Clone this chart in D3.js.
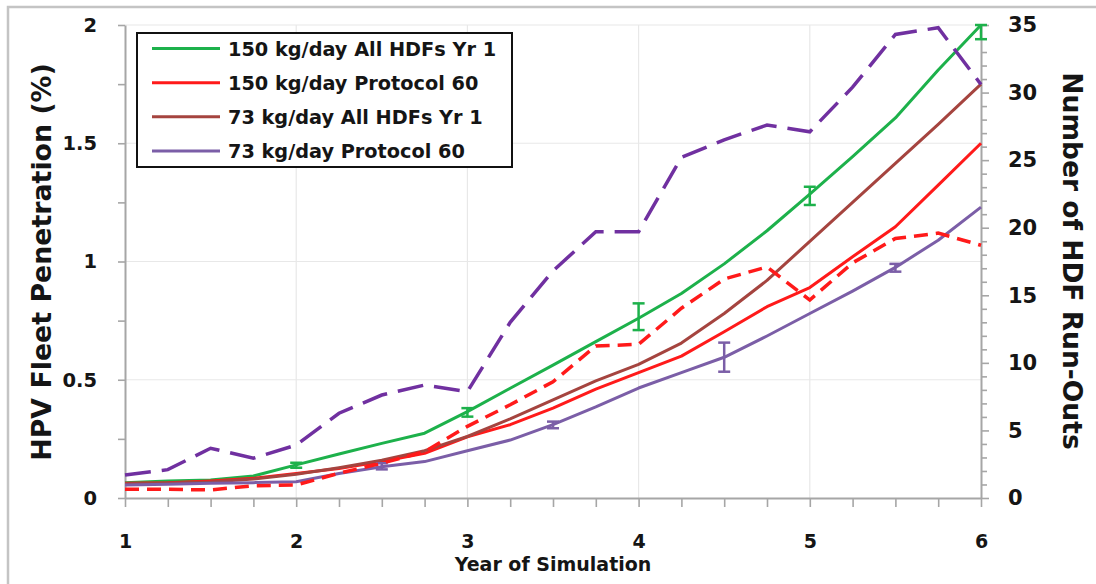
<!DOCTYPE html>
<html><head><meta charset="utf-8">
<script src="https://cdn.jsdelivr.net/npm/d3@7"></script>
<style>
body{margin:0;background:#fff;}
svg{display:block;font-family:"DejaVu Sans",sans-serif;font-weight:bold;}
</style></head><body>
<svg id="c" width="1096" height="584"></svg>
<script>
// ---- data ----
const years = [1, 1.25, 1.5, 1.75, 2, 2.25, 2.5, 2.75, 3, 3.25, 3.5, 3.75, 4, 4.25, 4.5, 4.75, 5, 5.25, 5.5, 5.75, 6];
// HPV fleet penetration (%) — left axis
const green150All = [0.065, 0.072, 0.076, 0.093, 0.14, 0.186, 0.231, 0.274, 0.365, 0.464, 0.562, 0.661, 0.76, 0.865, 0.99, 1.13, 1.285, 1.443, 1.607, 1.81, 2.0];
const red150P60 = [0.062, 0.065, 0.072, 0.083, 0.104, 0.125, 0.154, 0.189, 0.259, 0.31, 0.38, 0.46, 0.53, 0.60, 0.703, 0.809, 0.89, 1.02, 1.147, 1.323, 1.50];
const brown73All = [0.06, 0.063, 0.068, 0.08, 0.10, 0.128, 0.16, 0.20, 0.26, 0.335, 0.415, 0.495, 0.565, 0.655, 0.78, 0.92, 1.085, 1.25, 1.415, 1.58, 1.75];
const purple73P60 = [0.055, 0.058, 0.062, 0.065, 0.069, 0.104, 0.132, 0.154, 0.2, 0.245, 0.31, 0.385, 0.465, 0.53, 0.595, 0.685, 0.78, 0.875, 0.975, 1.09, 1.23];
// Number of HDF run-outs — right axis
const redRunOuts = [0.64, 0.64, 0.6, 0.91, 0.96, 1.83, 2.57, 3.43, 5.3, 6.9, 8.6, 11.25, 11.37, 14.04, 16.2, 17.1, 14.65, 17.4, 19.2, 19.6, 18.7];
const purpleRunOuts = [1.7, 2.1, 3.68, 2.94, 3.92, 6.27, 7.62, 8.36, 7.87, 13.0, 16.8, 19.7, 19.7, 25.2, 26.5, 27.6, 27.1, 30.4, 34.3, 34.8, 30.6];
// error bars
const greenErrX = [2, 3, 4, 5, 6];
const greenErrLo = [0.128, 0.344, 0.71, 1.239, 1.94];
const greenErrHi = [0.149, 0.38, 0.823, 1.316, 2.0];
const purpleErrX = [2.5, 3.5, 4.5, 5.5];
const purpleErrLo = [0.121, 0.295, 0.534, 0.957];
const purpleErrHi = [0.147, 0.323, 0.657, 0.99];
// ticks / labels
const xTicks = [1, 2, 3, 4, 5, 6];
const leftTicks = [0, 0.5, 1, 1.5, 2];
const rightTicks = [0, 5, 10, 15, 20, 25, 30, 35];
const legendLabels = ["150 kg/day All HDFs Yr 1", "150 kg/day Protocol 60", "73 kg/day All HDFs Yr 1", "73 kg/day Protocol 60"];
const xTitle = "Year of Simulation";
const leftTitle = "HPV Fleet Penetration (%)";
const rightTitle = "Number of HDF Run-Outs";

// ---- drawing ----
const svg = d3.select('#c');
const m = {l:125, r:981, t:25, b:498};
const x = d3.scaleLinear().domain([1,6]).range([m.l, m.r]);
const yL = d3.scaleLinear().domain([0,2]).range([m.b, m.t]);
const yR = d3.scaleLinear().domain([0,35]).range([m.b, m.t]);
const axisCol = '#a6a6a6', gridCol = '#e8e8e8', txtCol = '#151515';
const C = {green:'#1db14b', red:'#ff1a1a', brown:'#a5443f', purple:'#7b5ea7', purpleDark:'#7030a0'};

svg.append('rect').attr('x',8).attr('y',7).attr('width',1100).attr('height',600)
  .attr('fill','#fff').attr('stroke','#c4c4c4').attr('stroke-width',2.5);

// gridlines
svg.append('g').selectAll('line').data(leftTicks.filter(d=>d>0)).join('line')
  .attr('x1',m.l).attr('x2',m.r).attr('y1',d=>yL(d)).attr('y2',d=>yL(d))
  .attr('stroke',gridCol).attr('stroke-width',1.2);
svg.append('g').selectAll('line').data(xTicks.filter(d=>d>1 && d<6)).join('line')
  .attr('x1',d=>x(d)).attr('x2',d=>x(d)).attr('y1',m.t).attr('y2',m.b)
  .attr('stroke',gridCol).attr('stroke-width',1.2);

// axes
function styleAxis(g){
  g.select('.domain').attr('stroke',axisCol).attr('stroke-width',2);
  g.selectAll('.tick line').attr('stroke',axisCol).attr('stroke-width',1.6);
  g.selectAll('.tick text').attr('fill',txtCol).style('font-family','"DejaVu Sans",sans-serif').style('font-weight','bold');
}
const leftMinor = d3.range(0, 2.001, 0.25);
const gL = svg.append('g').attr('transform',`translate(${m.l},0)`)
  .call(d3.axisLeft(yL).tickValues(leftMinor).tickSize(7).tickSizeOuter(0).tickPadding(21)
    .tickFormat(d => leftTicks.some(t=>Math.abs(t-d)<1e-9) ? d3.format('~g')(d) : ''));
styleAxis(gL); gL.selectAll('.tick text').style('font-size','19.5px');

const rightMinor = d3.range(0, 35.001, 1);
const gR = svg.append('g').attr('transform',`translate(${m.r},0)`)
  .call(d3.axisRight(yR).tickValues(rightMinor).tickSize(8).tickSizeOuter(0).tickPadding(19)
    .tickFormat(d => rightTicks.includes(d) ? String(d) : ''));
styleAxis(gR); gR.selectAll('.tick text').style('font-size','21px');
gR.selectAll('.tick line').attr('x2', d => rightTicks.includes(d) ? 8 : 6);

const xMinor = d3.range(1, 6.001, 0.25);
const gX = svg.append('g').attr('transform',`translate(0,${m.b})`)
  .call(d3.axisBottom(x).tickValues(xMinor).tickSize(9).tickSizeOuter(0)
    .tickFormat(d => xTicks.some(t=>Math.abs(t-d)<1e-9) ? String(d) : ''));
styleAxis(gX);
gX.selectAll('.tick text').attr('y', 50).attr('dy', null).style('font-size','19px');

// series
const lineL = d3.line().x((d,i)=>x(years[i])).y(d=>yL(d));
const lineR = d3.line().x((d,i)=>x(years[i])).y(d=>yR(d));
const solids = [
  {v:green150All, c:C.green},
  {v:red150P60, c:C.red},
  {v:brown73All, c:C.brown},
  {v:purple73P60, c:C.purple}
];
const plot = svg.append('g');
solids.forEach(s => plot.append('path').attr('d', lineL(s.v)).attr('fill','none')
  .attr('stroke', s.c).attr('stroke-width', 3).attr('stroke-linejoin','round'));

// error bars
function errBars(xs, lo, hi, col){
  const g = plot.append('g').attr('stroke', col).attr('stroke-width', 2.5).attr('fill','none');
  xs.forEach((xv,i) => {
    const cx = x(xv);
    g.append('line').attr('x1',cx).attr('x2',cx).attr('y1',yL(lo[i])).attr('y2',yL(hi[i]));
    g.append('line').attr('x1',cx-6).attr('x2',cx+6).attr('y1',yL(lo[i])).attr('y2',yL(lo[i]));
    g.append('line').attr('x1',cx-6).attr('x2',cx+6).attr('y1',yL(hi[i])).attr('y2',yL(hi[i]));
  });
}
errBars(greenErrX, greenErrLo, greenErrHi, C.green);
errBars(purpleErrX, purpleErrLo, purpleErrHi, C.purple);

plot.append('path').attr('d', lineR(redRunOuts)).attr('fill','none')
  .attr('stroke', C.red).attr('stroke-width', 3.5).attr('stroke-dasharray','14 8');
plot.append('path').attr('d', lineR(purpleRunOuts)).attr('fill','none')
  .attr('stroke', C.purpleDark).attr('stroke-width', 3.5).attr('stroke-dasharray','26 11');

// legend
const lg = svg.append('g');
lg.append('rect').attr('x',137).attr('y',33).attr('width',375).attr('height',134)
  .attr('fill','#fff').attr('stroke','#111').attr('stroke-width',2);
const legCols = [C.green, C.red, C.brown, C.purple];
const rowY = d3.scaleLinear().domain([0,3]).range([48.5, 151]);
legendLabels.forEach((t,i) => {
  lg.append('line').attr('x1',152).attr('x2',220).attr('y1',rowY(i)).attr('y2',rowY(i))
    .attr('stroke',legCols[i]).attr('stroke-width',3);
  lg.append('text').attr('x',228).attr('y',rowY(i)+7).attr('fill',txtCol)
    .style('font-size','19.3px').text(t);
});

// titles
svg.append('text').attr('x', 553).attr('y', 571).attr('text-anchor','middle')
  .attr('fill',txtCol).style('font-size','19px').text(xTitle);
svg.append('text').attr('transform','translate(51,262) rotate(-90)').attr('text-anchor','middle')
  .attr('fill',txtCol).style('font-size','26.8px').text(leftTitle);
svg.append('text').attr('transform','translate(1063,261) rotate(90)').attr('text-anchor','middle')
  .attr('fill',txtCol).style('font-size','26.5px').text(rightTitle);
</script>
</body></html>
